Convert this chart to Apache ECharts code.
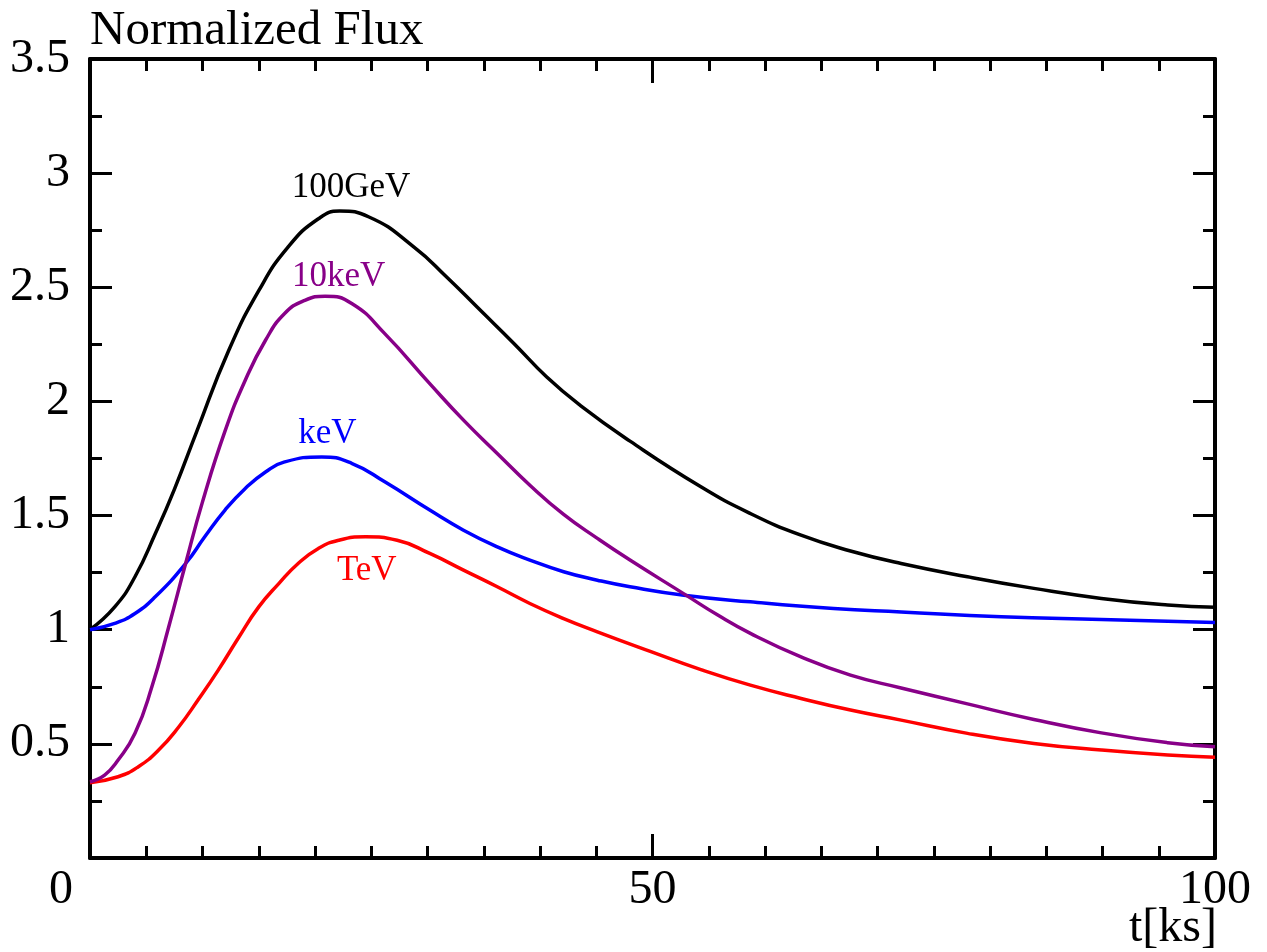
<!DOCTYPE html>
<html>
<head>
<meta charset="utf-8">
<script src="https://cdn.jsdelivr.net/npm/echarts@6/dist/echarts.min.js"></script>
<style>
html,body{margin:0;padding:0;background:#fff;}
#chart{width:1267px;height:952px;}
</style>
</head>
<body>
<div id="chart"></div>
<script>
// ---- data (t in ks, normalized flux) ----
const tGeV100 = [0, 2.2, 4, 5.8, 7.5, 9.5, 12.3, 15, 17.6, 20.3, 22.2, 24.8, 28.8, 31.7, 34.7, 37.7, 40.6, 43.6, 48, 54.3, 58.7, 63.2, 67.6, 72.1, 78, 83.9, 89.9, 95.8, 100];
const vGeV100 = [1.0, 1.10, 1.232, 1.42, 1.615, 1.87, 2.22, 2.485, 2.676, 2.80, 2.834, 2.808, 2.676, 2.545, 2.399, 2.253, 2.107, 1.982, 1.826, 1.626, 1.509, 1.414, 1.345, 1.29, 1.232, 1.181, 1.137, 1.108, 1.098];

const tKeV10 = [0, 1.3, 2.5, 4, 5.5, 7, 8.5, 10, 12, 13.8, 15.6, 17.3, 19.1, 20.9, 23.3, 26.2, 30.2, 33.2, 36.2, 39.1, 42.1, 45.1, 48, 52.8, 55.8, 58.7, 63.2, 67.6, 72.1, 78, 83.9, 89.9, 95.8, 100];
const vKeV10 = [0.334, 0.363, 0.429, 0.546, 0.75, 1.013, 1.29, 1.56, 1.87, 2.093, 2.268, 2.385, 2.443, 2.461, 2.428, 2.297, 2.078, 1.918, 1.772, 1.633, 1.505, 1.40, 1.305, 1.157, 1.064, 0.984, 0.881, 0.801, 0.745, 0.675, 0.607, 0.548, 0.505, 0.487];

const tKeV = [0, 2.2, 4, 5.8, 8.5, 10.2, 12, 13.8, 15.6, 17.3, 20.6, 23.3, 26.2, 30.2, 33.2, 36.2, 39.1, 42.1, 45.1, 48, 52.8, 58.7, 66.1, 72.1, 81, 89.9, 100];
const vKeV = [1.0, 1.028, 1.071, 1.144, 1.29, 1.407, 1.524, 1.619, 1.691, 1.735, 1.757, 1.728, 1.648, 1.524, 1.436, 1.363, 1.305, 1.254, 1.217, 1.188, 1.151, 1.122, 1.093, 1.078, 1.057, 1.045, 1.032];

const tTeV = [0, 2.5, 4.3, 6.1, 7.9, 9.6, 11.4, 13.2, 15, 16.8, 18.5, 20.3, 22.1, 24.5, 27.3, 30.2, 33.2, 36.2, 39.1, 42.1, 45.1, 49.8, 54.3, 58.7, 63.2, 67.6, 72.1, 78, 83.9, 89.9, 95.8, 100];
const vTeV = [0.33, 0.356, 0.40, 0.473, 0.575, 0.692, 0.823, 0.965, 1.10, 1.203, 1.29, 1.356, 1.392, 1.407, 1.392, 1.334, 1.261, 1.188, 1.115, 1.049, 0.991, 0.905, 0.825, 0.757, 0.699, 0.648, 0.604, 0.546, 0.502, 0.473, 0.451, 0.441];

const seriesNames = ['100GeV', '10keV', 'keV', 'TeV'];
const seriesColors = ['#000000', '#880088', '#0000ff', '#ff0000'];
// label anchor points in data space [t, flux]
const labelAnchors = [[23.2, 2.935], [22.1, 2.544], [21.1, 1.86], [24.6, 1.26]];

const xTickLabels = ['0', '50', '100'];
const titleText = 'Normalized Flux';
const xName = 't[ks]';

function pairs(t, v) { return t.map((x, i) => [x, v[i]]); }
const dataSets = [pairs(tGeV100, vGeV100), pairs(tKeV10, vKeV10), pairs(tKeV, vKeV), pairs(tTeV, vTeV)];

const FONT = "'Liberation Serif', 'Times New Roman', serif";
const chart = echarts.init(document.getElementById('chart'), null, {renderer: 'canvas'});

const axisLine = {show: true, onZero: false, lineStyle: {color: '#000', width: 4}};
function xAx(pos, showLabel) {
  return {
    type: 'value', position: pos, min: 0, max: 100, interval: 50,
    axisLine: axisLine,
    axisTick: {show: true, inside: true, length: 24, lineStyle: {color: '#000', width: 3}},
    minorTick: {show: true, splitNumber: 10, length: 12, lineStyle: {color: '#000', width: 3}},
    splitLine: {show: false}, minorSplitLine: {show: false},
    axisLabel: showLabel ? {
      show: true, margin: 8, fontFamily: FONT, fontSize: 48, color: '#000',
      formatter: function (val) {
        const s = xTickLabels[Math.round(val / 50)];
        return val === 0 ? '{z|' + s + '}' : s;
      },
      rich: {z: {fontFamily: FONT, fontSize: 48, color: '#000', padding: [0, 58, 0, 0]}}
    } : {show: false}
  };
}
function yAx(pos, showLabel) {
  return {
    type: 'value', position: pos, min: 0, max: 3.5, interval: 0.5,
    axisLine: axisLine,
    axisTick: {show: true, inside: true, length: 22, lineStyle: {color: '#000', width: 3}},
    minorTick: {show: true, splitNumber: 2, length: 12, lineStyle: {color: '#000', width: 3}},
    splitLine: {show: false}, minorSplitLine: {show: false},
    axisLabel: showLabel ? {
      show: true, margin: 20, fontFamily: FONT, fontSize: 48, color: '#000',
      formatter: function (val) { return val === 0 ? '' : String(val); }
    } : {show: false}
  };
}

const series = dataSets.map((d, i) => ({
  name: seriesNames[i], type: 'line', xAxisIndex: 0, yAxisIndex: 0,
  data: d, smooth: 0.5, showSymbol: false, symbol: 'none',
  lineStyle: {color: seriesColors[i], width: 3.5}, itemStyle: {color: seriesColors[i]},
  z: [3, 5, 4, 3][i],
  markPoint: {
    symbol: 'circle', symbolSize: 0, silent: true,
    data: [{coord: labelAnchors[i], value: seriesNames[i]}],
    label: {show: true, position: 'inside', formatter: seriesNames[i], fontFamily: FONT, fontSize: 35, color: seriesColors[i]}
  }
}));

chart.setOption({
  animation: false,
  backgroundColor: '#fff',
  title: [
    {text: titleText, left: 85, top: 2, textStyle: {fontFamily: FONT, fontSize: 49, fontWeight: 'normal', color: '#000'}},
    {text: xName, right: 45, bottom: -5, textStyle: {fontFamily: FONT, fontSize: 48, fontWeight: 'normal', color: '#000'}}
  ],
  grid: {left: 90, right: 52, top: 59, bottom: 94, containLabel: false},
  xAxis: [xAx('bottom', true), xAx('top', false)],
  yAxis: [yAx('left', true), yAx('right', false)],
  series: series
});
</script>
</body>
</html>
